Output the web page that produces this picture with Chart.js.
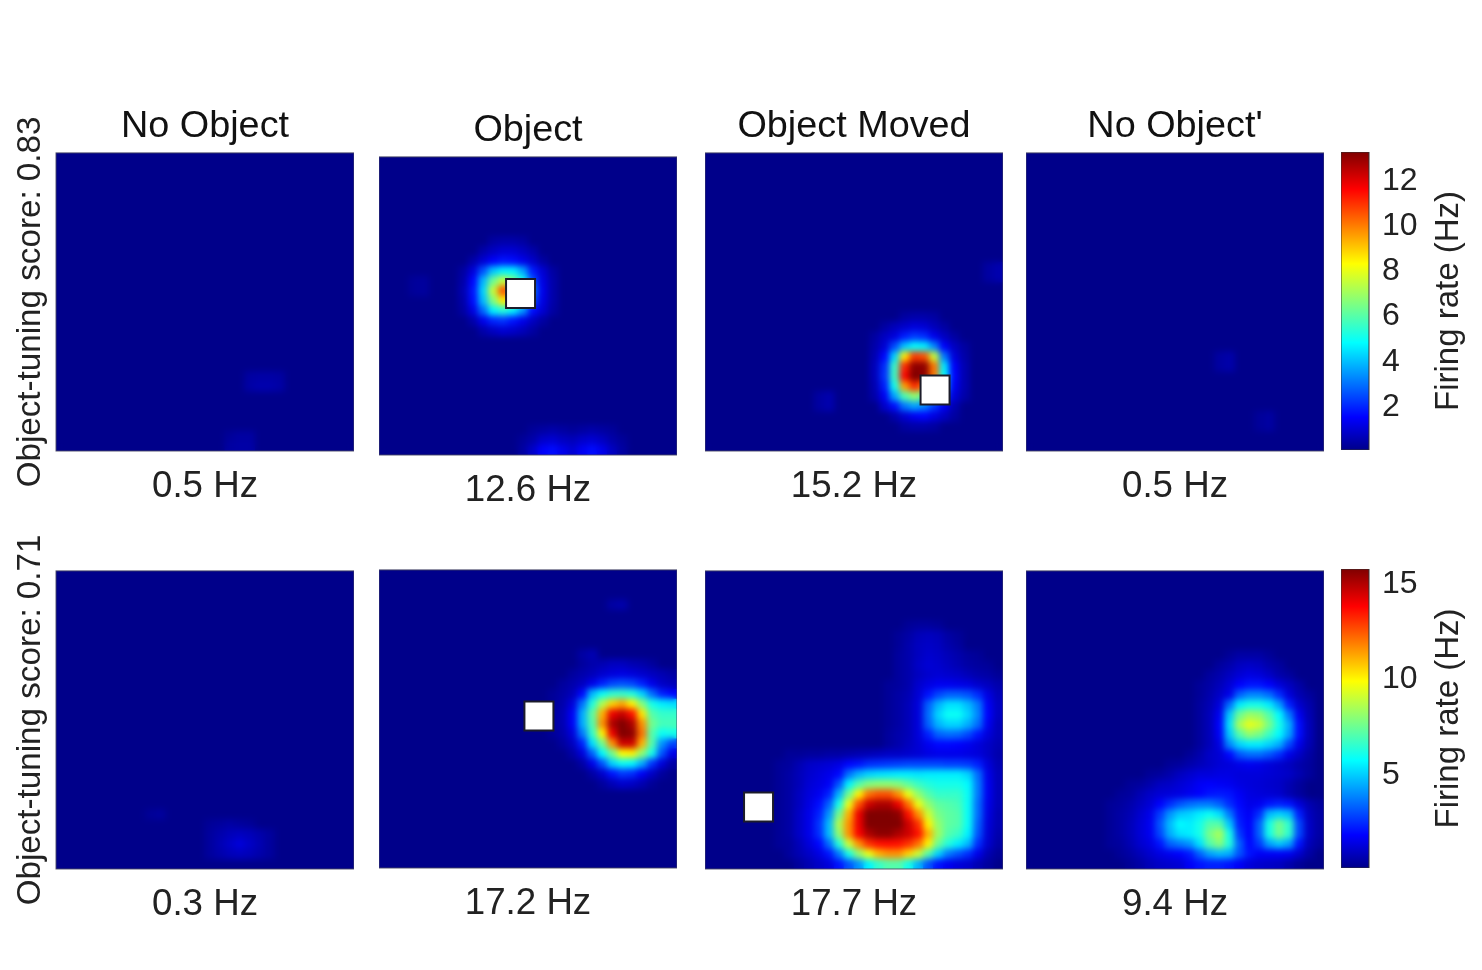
<!DOCTYPE html>
<html>
<head>
<meta charset="utf-8">
<title>Firing rate maps</title>
<script src="https://cdn.jsdelivr.net/npm/chart.js@4"></script>
<style>
  html, body { margin: 0; background: #fff; width: 1482px; height: 970px; overflow: hidden; }
  canvas { position: absolute; }
</style>
</head>
<body>
<script>
// firing rates in Hz, one row per entry: [row, first column, values...] on a 30x30 grid
const cellsTopNoObject = [
  [22, 19, 0.3, 0.35, 0.35, 0.3],
  [23, 19, 0.35, 0.45, 0.45, 0.35],
  [28, 17, 0.2, 0.3, 0.3],
  [29, 17, 0.3, 0.35, 0.35]
];
const cellsTopObject = [
  [12, 3, 0.2, 0.25],
  [13, 3, 0.2, 0.25],
  [8, 11, 0.3, 0.4, 0.4, 0.3],
  [9, 10, 0.4, 0.7, 0.9, 0.9, 0.7, 0.4],
  [10, 9, 0.4, 0.9, 1.4, 1.7, 1.6, 1.2, 0.8, 0.3],
  [11, 8, 0.3, 1.0, 2.5, 4.0, 4.6, 4.6, 3.6, 1.8, 0.9, 0.3],
  [12, 8, 0.4, 1.5, 3.8, 6.2, 7.5, 6.5, 5.0, 2.5, 1.1, 0.4],
  [13, 8, 0.5, 1.7, 4.2, 7.5, 10.5, 9.5, 6.0, 3.0, 1.2, 0.4],
  [14, 8, 0.4, 1.6, 3.9, 6.5, 8.5, 7.5, 5.2, 2.5, 1.1, 0.4],
  [15, 8, 0.3, 1.1, 2.8, 4.6, 5.2, 4.6, 3.4, 1.6, 0.9, 0.3],
  [16, 9, 0.4, 1.2, 1.9, 2.1, 1.7, 1.2, 0.7, 0.3],
  [17, 10, 0.4, 0.7, 0.9, 0.8, 0.6, 0.3],
  [27, 15, 0.2, 0.3, 0.4, 0.3, 0.2, 0.3, 0.4, 0.3, 0.2],
  [28, 14, 0.2, 0.4, 0.8, 0.9, 0.7, 0.6, 0.8, 0.9, 0.7, 0.4, 0.2],
  [29, 14, 0.3, 0.8, 1.4, 1.6, 1.2, 0.9, 1.3, 1.6, 1.2, 0.7, 0.3]
];
const cellsTopMoved = [
  [11, 28, 0.3, 0.45],
  [12, 28, 0.3, 0.45],
  [24, 11, 0.3, 0.45],
  [25, 11, 0.3, 0.45],
  [16, 19.6, 0.3, 0.4, 0.4, 0.3],
  [17, 17.6, 0.3, 0.6, 0.8, 1.0, 0.9, 0.6, 0.3],
  [18, 16.6, 0.3, 0.7, 1.0, 1.8, 2.2, 2.0, 1.2, 0.7, 0.3],
  [19, 16.6, 0.4, 0.9, 2.4, 4.0, 4.8, 4.6, 3.2, 1.4, 0.7, 0.3],
  [20, 16.6, 0.5, 1.5, 4.2, 8.5, 10.8, 10.5, 7.5, 3.0, 1.0, 0.4],
  [21, 16.6, 0.6, 2.0, 5.5, 11, 13, 13, 10, 4.5, 1.4, 0.5],
  [22, 16.6, 0.6, 2.1, 5.6, 11.5, 13.2, 13, 10, 4.8, 1.5, 0.5],
  [23, 16.6, 0.5, 1.8, 5.0, 9.5, 11, 10, 7, 4.0, 1.3, 0.5],
  [24, 16.6, 0.4, 1.3, 3.6, 5.8, 6.8, 6, 4.5, 2.4, 1.0, 0.4],
  [25, 17.6, 0.8, 1.6, 3.0, 3.6, 3.2, 2.2, 1.3, 0.5],
  [26, 18.6, 0.4, 0.9, 1.3, 1.5, 1.1, 0.7, 0.3],
  [27, 19.6, 0.3, 0.4, 0.4, 0.3]
];
const cellsTopNoObjectAfter = [
  [20, 19, 0.3, 0.4],
  [21, 19, 0.3, 0.4],
  [26, 23, 0.2, 0.3],
  [27, 23, 0.2, 0.3]
];
const cellsBottomNoObject = [
  [24, 9, 0.2, 0.3],
  [25, 15, 0.2, 0.3, 0.4, 0.3, 0.2],
  [26, 15, 0.3, 0.5, 0.7, 0.8, 0.7, 0.5, 0.3],
  [27, 15, 0.3, 0.6, 0.9, 1.2, 0.9, 0.6, 0.3],
  [28, 15, 0.3, 0.5, 0.7, 0.8, 0.7, 0.5, 0.3]
];
const cellsBottomObject = [
  [3, 23, 0.4, 0.5],
  [8, 20, 0.4, 0.6],
  [9, 20, 0.3, 0.5, 0.6, 0.8, 0.8, 0.6, 0.5, 0.3],
  [10, 19, 0.3, 0.5, 0.7, 1.0, 1.2, 1.3, 1.2, 1.0, 0.8, 0.6, 0.4],
  [11, 18, 0.3, 0.5, 0.8, 1.4, 2.2, 2.8, 3.0, 2.8, 2.2, 1.4, 0.9, 0.7],
  [12, 17, 0.2, 0.4, 0.7, 1.8, 4.6, 5.8, 6.4, 6.5, 6.2, 5.0, 3.4, 2.2, 1.8],
  [13, 17, 0.2, 0.5, 1.2, 3.5, 6.2, 8.5, 10.5, 11.2, 10, 7.8, 6.0, 5.4, 5.2],
  [14, 17, 0.3, 0.6, 1.6, 4.4, 7.2, 11, 14, 14.6, 13.5, 10.2, 7.0, 6.5, 6.5],
  [15, 17, 0.3, 0.6, 1.6, 4.4, 7.0, 11.5, 15, 15.8, 15, 11.5, 7.5, 6.8, 6.8],
  [16, 17, 0.2, 0.5, 1.2, 3.6, 6.5, 10, 14, 16, 15.5, 12, 7.0, 5.8, 6.0],
  [17, 18, 0.3, 0.8, 2.2, 5.2, 7.5, 11.5, 14.5, 14.5, 11, 7.0, 4.0, 2.8],
  [18, 19, 0.4, 1.2, 3.2, 5.6, 7.5, 9.8, 10, 8.0, 6.0, 3.0, 1.4],
  [19, 20, 0.4, 1.4, 3.0, 5.0, 5.8, 5.6, 4.4, 2.5, 1.2, 0.4],
  [20, 21, 0.4, 1.0, 2.0, 2.6, 2.4, 1.6, 0.9, 0.3],
  [21, 22, 0.3, 0.7, 1.0, 0.9, 0.6, 0.2]
];
const cellsBottomMoved = [
  [5, 20, 0.2, 0.3, 0.3, 0.2],
  [6, 19, 0.2, 0.4, 0.7, 0.8, 0.7, 0.4, 0.2],
  [7, 19, 0.2, 0.5, 0.8, 0.9, 0.8, 0.5, 0.3],
  [8, 19, 0.3, 0.5, 0.8, 1.0, 0.9, 0.7, 0.5, 0.3, 0.2],
  [9, 19, 0.3, 0.5, 0.9, 1.1, 1.0, 0.8, 0.6, 0.4, 0.3, 0.2],
  [10, 19, 0.3, 0.5, 0.8, 1.0, 1.1, 1.0, 0.9, 0.7, 0.5, 0.4, 0.2],
  [11, 18, 0.2, 0.3, 0.5, 1.0, 1.3, 1.5, 1.5, 1.4, 1.3, 1.0, 0.8, 0.5],
  [12, 18, 0.2, 0.4, 0.6, 1.1, 2.0, 2.8, 3.2, 3.2, 3.0, 2.4, 1.3, 0.7],
  [13, 18, 0.2, 0.4, 0.7, 1.2, 3.2, 4.5, 5.2, 5.2, 4.6, 3.6, 1.6, 0.8],
  [14, 18, 0.2, 0.4, 0.7, 1.2, 3.4, 5.0, 5.8, 5.8, 5.0, 3.8, 1.7, 0.8],
  [15, 18, 0.2, 0.4, 0.7, 1.2, 3.2, 4.5, 5.0, 5.0, 4.4, 3.4, 1.5, 0.7],
  [16, 18, 0.3, 0.5, 0.7, 1.2, 2.2, 3.2, 3.4, 3.3, 2.8, 2.0, 1.2, 0.7],
  [17, 18, 0.3, 0.5, 0.8, 1.1, 1.5, 1.8, 1.8, 1.7, 1.5, 1.2, 0.9, 0.6],
  [18, 8, 0.2, 0.2, 0.3, 0.3, 0.4, 0.4, 0.5, 0.6, 0.7, 0.8, 0.9, 0.9, 1.0, 1.1, 1.3, 1.4, 1.4, 1.4, 1.3, 1.2, 0.9, 0.5],
  [19, 7, 0.2, 0.3, 0.6, 0.9, 1.0, 1.1, 1.3, 1.8, 2.0, 2.4, 2.5, 2.6, 2.7, 2.8, 2.8, 2.8, 2.8, 2.7, 2.7, 2.6, 2.2, 1.2, 0.6],
  [20, 7, 0.2, 0.4, 0.7, 1.0, 1.2, 1.4, 1.8, 3.5, 4.5, 5.0, 5.2, 5.3, 5.4, 5.4, 5.3, 5.4, 5.4, 5.4, 5.4, 5.0, 3.4, 1.4, 0.7],
  [21, 7, 0.2, 0.4, 0.7, 1.1, 1.3, 1.6, 3.0, 5.5, 7.0, 7.8, 8.0, 8.0, 7.8, 7.2, 6.6, 6.2, 6.0, 6.0, 6.0, 5.6, 3.6, 1.5, 0.7],
  [22, 7, 0.2, 0.4, 0.8, 1.2, 1.5, 2.2, 4.5, 7.5, 10, 12, 12.5, 12.5, 11.5, 9.5, 8.0, 7.0, 6.5, 6.5, 6.5, 5.8, 3.6, 1.5, 0.7],
  [23, 7, 0.2, 0.4, 0.8, 1.3, 1.9, 3.2, 6.0, 9.5, 12.5, 14.5, 15, 15, 14, 12, 9.5, 8.0, 7.2, 7.0, 6.8, 5.8, 3.4, 1.4, 0.7],
  [24, 7, 0.2, 0.4, 0.9, 1.4, 2.2, 4.0, 7.5, 11, 14, 16, 16.3, 16.3, 15.5, 13.5, 11.5, 9.0, 7.6, 7.2, 7.0, 5.8, 3.4, 1.3, 0.6],
  [25, 7, 0.2, 0.4, 0.9, 1.4, 2.5, 4.6, 8.5, 11.5, 14, 16, 16.3, 16.3, 15.8, 14.5, 13, 10, 8.0, 7.2, 7.0, 5.8, 3.2, 1.2, 0.6],
  [26, 7, 0.2, 0.4, 0.9, 1.4, 2.4, 4.6, 8.0, 11.5, 13.8, 15, 15.5, 15.5, 15, 14.5, 13.5, 11, 8.2, 7.0, 6.6, 5.5, 3.0, 1.1, 0.5],
  [27, 7, 0.2, 0.3, 0.7, 1.2, 1.8, 3.4, 6.2, 9.0, 11.5, 13, 13.5, 13.6, 13.5, 13, 12, 10, 7.4, 6.2, 5.4, 4.6, 2.4, 1.0, 0.4],
  [28, 8, 0.3, 0.6, 0.9, 1.3, 2.0, 3.6, 6.0, 8.0, 9.5, 11, 11.5, 11.5, 10.5, 9.0, 7.0, 5.0, 3.6, 3.0, 2.4, 1.4, 0.6, 0.2],
  [29, 9, 0.3, 0.6, 0.9, 1.2, 2.0, 3.0, 4.0, 5.5, 6.5, 7.0, 7.0, 6.0, 4.5, 3.0, 2.0, 1.5, 1.2, 1.0, 0.6, 0.3]
];
const cellsBottomNoObjectAfter = [
  [8, 20, 0.2, 0.4, 0.4, 0.4, 0.2],
  [9, 19, 0.3, 0.5, 0.8, 0.9, 0.8, 0.5, 0.3],
  [10, 18, 0.3, 0.5, 0.8, 1.1, 1.3, 1.2, 0.9, 0.5, 0.3],
  [11, 17, 0.2, 0.4, 0.7, 1.1, 1.7, 2.0, 2.0, 1.7, 1.2, 0.8, 0.4],
  [12, 17, 0.2, 0.5, 0.9, 1.4, 3.2, 3.8, 3.8, 3.4, 2.4, 1.2, 0.6, 0.3],
  [13, 17, 0.3, 0.6, 1.2, 3.4, 5.4, 6.0, 6.0, 5.4, 4.2, 2.2, 1.0, 0.5],
  [14, 17, 0.3, 0.7, 1.5, 4.8, 7.4, 8.2, 8.0, 7.0, 5.6, 3.6, 1.5, 0.6],
  [15, 17, 0.3, 0.7, 1.7, 5.2, 8.4, 9.4, 9.0, 7.6, 6.0, 4.4, 1.9, 0.7],
  [16, 17, 0.3, 0.7, 1.6, 4.8, 7.0, 8.0, 7.6, 6.6, 5.6, 4.2, 1.9, 0.7],
  [17, 17, 0.3, 0.7, 1.3, 3.8, 5.0, 5.4, 5.4, 5.0, 4.4, 2.8, 1.4, 0.6],
  [18, 16, 0.2, 0.5, 0.9, 1.1, 1.8, 3.0, 3.4, 3.4, 3.0, 2.4, 1.4, 0.9, 0.4],
  [19, 14, 0.2, 0.3, 0.5, 0.7, 0.9, 1.1, 1.2, 1.4, 1.5, 1.4, 1.2, 1.0, 0.8, 0.5, 0.3],
  [20, 12, 0.2, 0.3, 0.5, 0.8, 1.0, 1.2, 1.2, 1.3, 1.3, 1.2, 1.2, 1.2, 1.1, 1.0, 0.9, 0.6, 0.3],
  [21, 10, 0.2, 0.3, 0.5, 0.8, 0.9, 1.1, 1.3, 1.6, 1.7, 1.6, 1.5, 1.3, 1.2, 1.1, 1.0, 0.9, 0.6, 0.3],
  [22, 9, 0.2, 0.3, 0.6, 0.9, 1.1, 1.2, 1.3, 1.5, 1.7, 2.0, 2.1, 2.0, 1.6, 1.3, 1.2, 1.1, 1.0, 0.6, 0.3],
  [23, 8, 0.2, 0.3, 0.5, 0.8, 1.1, 1.7, 2.4, 3.0, 3.4, 3.6, 3.6, 3.2, 2.4, 1.8, 1.4, 1.5, 2.0, 2.2, 2.0, 1.2, 0.6, 0.3],
  [24, 8, 0.2, 0.4, 0.6, 1.0, 1.4, 2.6, 4.0, 4.8, 5.0, 5.4, 5.8, 5.2, 3.6, 2.0, 1.6, 2.4, 4.6, 5.0, 4.6, 2.2, 0.8, 0.4],
  [25, 8, 0.2, 0.4, 0.7, 1.1, 1.5, 3.0, 4.6, 5.6, 5.4, 6.0, 7.0, 7.0, 4.8, 2.2, 1.7, 3.2, 6.0, 7.5, 6.4, 2.8, 0.9, 0.4],
  [26, 8, 0.2, 0.4, 0.7, 1.1, 1.5, 2.8, 4.4, 5.2, 5.4, 6.0, 7.6, 8.4, 6.0, 2.6, 1.7, 3.2, 6.0, 7.5, 6.4, 2.8, 0.9, 0.4],
  [27, 8, 0.2, 0.3, 0.6, 1.0, 1.3, 2.0, 3.2, 3.6, 4.0, 5.2, 7.0, 7.8, 6.2, 3.2, 1.8, 2.6, 4.2, 4.8, 4.2, 2.0, 0.7, 0.3],
  [28, 9, 0.2, 0.4, 0.7, 1.0, 1.3, 1.5, 1.7, 2.1, 3.2, 4.2, 4.6, 4.4, 3.0, 2.0, 1.6, 1.6, 1.6, 1.5, 1.0, 0.4],
  [29, 10, 0.2, 0.4, 0.7, 0.9, 1.0, 1.1, 1.6, 2.0, 2.2, 2.2, 2.0, 1.6, 1.2, 1.0, 0.9, 0.8, 0.5, 0.2]
];

const conditions = ["No Object", "Object", "Object Moved", "No Object'"];
const meanRatesTop = ["0.5 Hz", "12.6 Hz", "15.2 Hz", "0.5 Hz"];
const meanRatesBottom = ["0.3 Hz", "17.2 Hz", "17.7 Hz", "9.4 Hz"];
const scoreTop = "Object-tuning score: 0.83";
const scoreBottom = "Object-tuning score: 0.71";
const colorbarTitle = "Firing rate (Hz)";
const ticksTop = [2, 4, 6, 8, 10, 12];
const ticksBottom = [5, 10, 15];
const maxRateTop = 13.2;
const maxRateBottom = 15.7;
// object position in grid units, null when no object in the arena
const objectTop = [null, [14.25, 13.75], [23.16, 23.87], null];
const objectBottom = [null, [16.1, 14.7], [5.39, 23.77], null];

const jetStops = [
  [0, [0, 0, 138]], [0.11, [0, 0, 255]], [0.36, [0, 255, 255]],
  [0.625, [255, 255, 0]], [0.875, [255, 0, 0]], [1, [128, 0, 0]]
];

const FONT = "'Liberation Sans', Arial, sans-serif";
const GRID = 30;
const TITLE_BOX = 47;
const RATE_BOX = 54;
const LEFT_BOX = 44;

function jet(t) {
  t = Math.min(1, Math.max(0, t));
  for (let i = 1; i < jetStops.length; i++) {
    if (t <= jetStops[i][0]) {
      const [t0, c0] = jetStops[i - 1];
      const [t1, c1] = jetStops[i];
      const f = (t - t0) / (t1 - t0);
      const c = c0.map((v, k) => Math.round(v + (c1[k] - v) * f));
      return `rgb(${c[0]},${c[1]},${c[2]})`;
    }
  }
}

function expandCells(rows) {
  const out = [];
  rows.forEach(([row, col, ...values]) => {
    values.forEach((v, i) => out.push({ x: col + i + 0.5, y: row + 0.5, v: v }));
  });
  return out;
}

function addCanvas(x, y, w, h) {
  const c = document.createElement("canvas");
  c.width = w;
  c.height = h;
  c.style.left = x + "px";
  c.style.top = y + "px";
  c.style.width = w + "px";
  c.style.height = h + "px";
  document.body.appendChild(c);
  return c;
}

// arena background, smoothing of the cells and the frame around the map
const heatPlugin = {
  id: "heat",
  beforeDatasetsDraw(chart) {
    const a = chart.chartArea;
    chart.ctx.save();
    chart.ctx.fillStyle = jet(0);
    chart.ctx.fillRect(a.left, a.top, a.width, a.height);
    chart.ctx.restore();
  },
  afterDatasetDraw(chart, args) {
    if (args.index !== 0) return;
    const a = chart.chartArea;
    const r = chart.currentDevicePixelRatio;
    const ctx = chart.ctx;
    ctx.save();
    ctx.beginPath();
    ctx.rect(a.left, a.top, a.width, a.height);
    ctx.clip();
    ctx.filter = "blur(3px)";
    ctx.drawImage(chart.canvas, a.left * r, a.top * r, a.width * r, a.height * r, a.left, a.top, a.width, a.height);
    ctx.restore();
  },
  afterDatasetsDraw(chart) {
    const a = chart.chartArea;
    chart.ctx.save();
    chart.ctx.strokeStyle = "rgba(70,70,100,0.9)";
    chart.ctx.lineWidth = 1;
    chart.ctx.strokeRect(a.left, a.top, a.width, a.height);
    chart.ctx.restore();
  }
};

// title on the right of the colorbar, reading upwards
const sideLabelPlugin = {
  id: "sideLabel",
  afterDraw(chart, args, opts) {
    const ctx = chart.ctx;
    const a = chart.chartArea;
    ctx.save();
    ctx.translate(a.right + opts.offset, (a.top + a.bottom) / 2);
    ctx.rotate(-Math.PI / 2);
    ctx.font = "33px " + FONT;
    ctx.fillStyle = "#222";
    ctx.textAlign = "center";
    ctx.textBaseline = "middle";
    ctx.fillText(opts.text, 0, 0);
    ctx.restore();
  }
};

function drawPanel(opts) {
  const left = opts.score ? LEFT_BOX : 0;
  const w = left + opts.w;
  const h = TITLE_BOX + opts.h + RATE_BOX;
  const canvas = addCanvas(opts.x - left, opts.y - TITLE_BOX, w, h);
  const datasets = [{
    data: expandCells(opts.cells),
    order: 2,
    pointStyle: "rect",
    pointRadius: 7.5,
    pointBorderWidth: 0,
    pointBackgroundColor: (c) => jet(c.raw ? c.raw.v / opts.maxRate : 0),
    clip: 0
  }];
  if (opts.object) {
    datasets.push({
      data: [{ x: opts.object[0], y: opts.object[1] }],
      order: 1,
      pointStyle: "rect",
      pointRadius: 20.5,
      pointBackgroundColor: "#fff",
      pointBorderColor: "#1c1c2a",
      pointBorderWidth: 2
    });
  }
  new Chart(canvas, {
    type: "scatter",
    data: { datasets: datasets },
    plugins: [heatPlugin],
    options: {
      responsive: false,
      animation: false,
      layout: { padding: 0, autoPadding: false },
      plugins: {
        legend: { display: false },
        tooltip: { enabled: false },
        title: {
          display: true,
          text: opts.title,
          fullSize: false,
          color: "#111",
          font: { family: FONT, size: 37.8, weight: "normal", lineHeight: 0.95 },
          padding: { top: 3, bottom: 8 }
        }
      },
      scales: {
        x: {
          type: "linear",
          min: 0,
          max: GRID,
          ticks: { display: false },
          grid: { display: false },
          border: { display: false },
          title: {
            display: true,
            text: opts.rate,
            color: "#222",
            font: { family: FONT, size: 36.7, lineHeight: 0.98 },
            padding: 0
          },
          afterFit: (s) => { s.height = RATE_BOX; }
        },
        y: {
          type: "linear",
          min: 0,
          max: GRID,
          reverse: true,
          display: !!opts.score,
          ticks: { display: false },
          grid: { display: false },
          border: { display: false },
          title: {
            display: !!opts.score,
            text: opts.score,
            color: "#222",
            font: { family: FONT, size: 33.2, lineHeight: 1 },
            padding: { top: 2, bottom: 0 }
          },
          afterFit: (s) => { s.width = opts.score ? LEFT_BOX : 0; }
        }
      }
    }
  });
}

function drawColorbar(x, y, w, h, maxRate, ticks) {
  const canvas = addCanvas(x, y, w + 113, h);
  new Chart(canvas, {
    type: "bar",
    data: {
      labels: [""],
      datasets: [{
        data: [[0, maxRate]],
        barPercentage: 1,
        categoryPercentage: 1,
        backgroundColor: (c) => {
          const a = c.chart.chartArea;
          if (!a) return "#00f";
          const g = c.chart.ctx.createLinearGradient(0, a.bottom, 0, a.top);
          jetStops.forEach(([t]) => g.addColorStop(t, jet(t)));
          return g;
        }
      }]
    },
    plugins: [sideLabelPlugin, {
      id: "barFrame",
      afterDatasetsDraw(chart) {
        const a = chart.chartArea;
        chart.ctx.save();
        chart.ctx.strokeStyle = "#333";
        chart.ctx.lineWidth = 1;
        chart.ctx.strokeRect(a.left, a.top, a.width, a.height);
        chart.ctx.restore();
      }
    }],
    options: {
      responsive: false,
      animation: false,
      layout: { padding: 0, autoPadding: false },
      plugins: {
        legend: { display: false },
        tooltip: { enabled: false },
        sideLabel: { text: colorbarTitle, offset: 80 }
      },
      scales: {
        x: { display: false },
        y: {
          position: "right",
          min: 0,
          max: maxRate,
          afterBuildTicks: (s) => { s.ticks = ticks.map((v) => ({ value: v })); },
          ticks: {
            color: "#222",
            padding: 16,
            autoSkip: false,
            // empty first line nudges the number down 2px to sit on the tick
            callback: (v) => ["", String(v)],
            font: { family: FONT, size: 32, lineHeight: "4px" }
          },
          grid: { drawOnChartArea: false, tickLength: -3, tickColor: "#333" },
          border: { display: false },
          afterFit: (s) => {
            s.width = 113;
            s.paddingTop = 0;
            s.paddingBottom = 0;
          }
        }
      }
    }
  });
}

// plot boxes on the page
const columnsX = [56, 379, 705, 1026];
const rowTopY = [153, 157, 153, 153];
const rowBottomY = [571, 570, 571, 571];
const cellsTop = [cellsTopNoObject, cellsTopObject, cellsTopMoved, cellsTopNoObjectAfter];
const cellsBottom = [cellsBottomNoObject, cellsBottomObject, cellsBottomMoved, cellsBottomNoObjectAfter];

columnsX.forEach((x, i) => {
  drawPanel({
    x: x, y: rowTopY[i], w: 298, h: 298,
    title: conditions[i], rate: meanRatesTop[i],
    score: i === 0 ? scoreTop : "",
    cells: cellsTop[i], maxRate: maxRateTop, object: objectTop[i]
  });
  drawPanel({
    x: x, y: rowBottomY[i], w: 298, h: 298,
    title: "", rate: meanRatesBottom[i],
    score: i === 0 ? scoreBottom : "",
    cells: cellsBottom[i], maxRate: maxRateBottom, object: objectBottom[i]
  });
});

drawColorbar(1341, 152, 28, 298, maxRateTop, ticksTop);
drawColorbar(1341, 569, 28, 299, maxRateBottom, ticksBottom);
</script>
</body>
</html>
